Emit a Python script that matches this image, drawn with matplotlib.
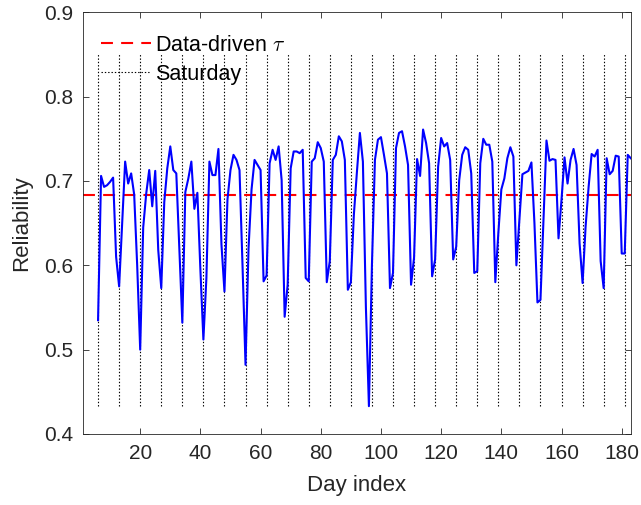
import numpy as np
import matplotlib
matplotlib.use('Agg')
import matplotlib.pyplot as plt
from matplotlib.lines import Line2D

# daily reliability, day 6 .. 183
days = np.arange(6, 184)
reliability = [
    0.535, 0.706, 0.693, 0.695, 0.699, 0.704, 0.610,
    0.575, 0.650, 0.723, 0.697, 0.709, 0.684, 0.600,
    0.500, 0.645, 0.685, 0.713, 0.670, 0.712, 0.618,
    0.573, 0.675, 0.715, 0.741, 0.713, 0.709, 0.620,
    0.532, 0.687, 0.703, 0.723, 0.667, 0.686, 0.595,
    0.512, 0.585, 0.723, 0.707, 0.707, 0.738, 0.625,
    0.569, 0.678, 0.713, 0.731, 0.725, 0.713, 0.600,
    0.482, 0.620, 0.690, 0.725, 0.719, 0.713, 0.581,
    0.588, 0.721, 0.737, 0.725, 0.741, 0.701, 0.539,
    0.577, 0.715, 0.735, 0.735, 0.733, 0.737, 0.585,
    0.581, 0.723, 0.727, 0.746, 0.739, 0.723, 0.580,
    0.605, 0.725, 0.731, 0.753, 0.747, 0.725, 0.571,
    0.580, 0.660, 0.710, 0.757, 0.723, 0.550, 0.433,
    0.600, 0.725, 0.749, 0.752, 0.731, 0.709, 0.573,
    0.591, 0.739, 0.757, 0.759, 0.741, 0.719, 0.577,
    0.609, 0.726, 0.706, 0.761, 0.745, 0.721, 0.587,
    0.607, 0.717, 0.751, 0.741, 0.745, 0.725, 0.607,
    0.622, 0.701, 0.731, 0.740, 0.737, 0.709, 0.591,
    0.593, 0.721, 0.750, 0.743, 0.743, 0.723, 0.580,
    0.638, 0.690, 0.703, 0.727, 0.740, 0.729, 0.600,
    0.654, 0.708, 0.710, 0.712, 0.722, 0.650, 0.556,
    0.559, 0.654, 0.748, 0.724, 0.726, 0.725, 0.632,
    0.678, 0.728, 0.697, 0.725, 0.738, 0.719, 0.626,
    0.579, 0.646, 0.693, 0.732, 0.729, 0.737, 0.605,
    0.573, 0.727, 0.708, 0.712, 0.730, 0.729, 0.614,
    0.614, 0.731, 0.727,
]
saturdays = [6, 13, 20, 27, 34, 41, 48, 55, 62, 69, 76, 83, 90, 97, 104,
             111, 118, 125, 132, 139, 146, 153, 160, 167, 174, 181]
tau = 0.683
sat_top = 0.85

plt.rcParams['font.family'] = ['Liberation Sans', 'DejaVu Sans']
plt.rcParams['mathtext.fontset'] = 'cm'
plt.rcParams['lines.scale_dashes'] = False
axcol = '#262626'

fig = plt.figure(figsize=(6.41, 5.05), dpi=100)
ax = fig.add_axes([0.1295, 0.1406, 0.8545, 0.835])

ax.vlines(saturdays, min(reliability), sat_top, colors='k',
          linestyles=(0, (1, 1.4)), linewidth=0.8)
ax.axhline(tau, color='#ff0000', linewidth=1.5, dashes=(8.6, 5.9))
ax.plot(days, reliability, color='#0000ff', linewidth=1.5)

ax.set_xlim(1, 183)
ax.set_ylim(0.4, 0.9)
ax.set_xticks(range(20, 181, 20))
ax.set_yticks([0.4, 0.5, 0.6, 0.7, 0.8, 0.9])
ax.set_yticklabels(['0.4', '0.5', '0.6', '0.7', '0.8', '0.9'])
ax.tick_params(direction='in', top=True, right=True, length=4,
               width=0.6, colors=axcol, labelsize=15, pad=7)
for s in ax.spines.values():
    s.set_color(axcol)
    s.set_linewidth(0.6)

ax.set_xlabel('Day index', fontsize=16, color=axcol, labelpad=9)
ax.set_ylabel('Reliability', fontsize=16, color=axcol, labelpad=9)

handles = [Line2D([], [], color='#ff0000', linewidth=1.5, dashes=(8.6, 5.9)),
           Line2D([], [], color='k', linewidth=0.8, linestyle=(0, (1, 1.4)))]
ax.legend(handles, [r'Data-driven $\tau$', 'Saturday'], loc='upper left',
          frameon=False, fontsize=15.5, handlelength=2.3, handletextpad=0.2,
          labelspacing=0.35, borderaxespad=0.3, bbox_to_anchor=(0.006, 0.982))

fig.savefig('out.png', dpi=100)
